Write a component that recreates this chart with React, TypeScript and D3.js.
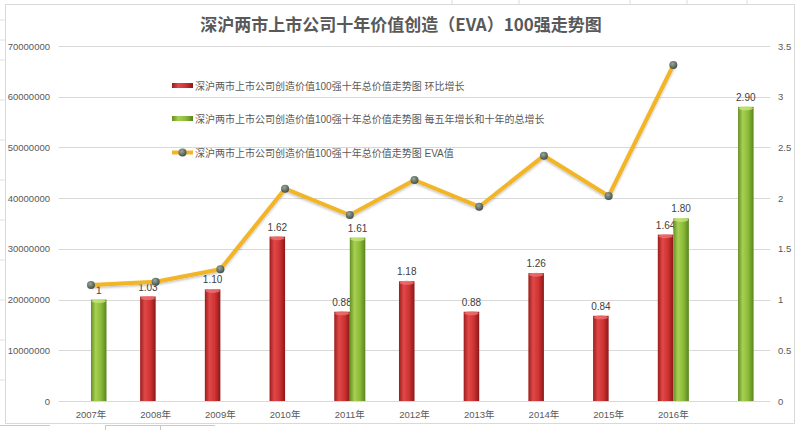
import React, { useEffect } from 'react';
import * as d3 from 'd3';

// chart data
const categories = ['2007年', '2008年', '2009年', '2010年', '2011年', '2012年', '2013年', '2014年', '2015年', '2016年', ''];
const ringGrowth: (number | null)[] = [null, 1.03, 1.10, 1.62, 0.88, 1.18, 0.88, 1.26, 0.84, 1.64, null];
const ringLabels = ['', '1.03', '1.10', '1.62', '0.88', '1.18', '0.88', '1.26', '0.84', '1.64', ''];
const periodGrowth: (number | null)[] = [1, null, null, null, 1.61, null, null, null, null, 1.80, 2.90];
const periodLabels = ['1', '', '', '', '1.61', '', '', '', '', '1.80', '2.90'];
const evaValues = [22870000, 23520000, 25970000, 41860000, 36680000, 43580000, 38310000, 48370000, 40420000, 66250000];
const leftTicks = [0, 10000000, 20000000, 30000000, 40000000, 50000000, 60000000, 70000000];
const rightTicks = [0, 0.5, 1, 1.5, 2, 2.5, 3, 3.5];

const seriesNames = [
  '深沪两市上市公司创造价值100强十年总价值走势图 环比增长',
  '深沪两市上市公司创造价值100强十年总价值走势图 每五年增长和十年的总增长',
  '深沪两市上市公司创造价值100强十年总价值走势图 EVA值',
];
const title = '深沪两市上市公司十年价值创造（EVA）100强走势图';

const W = 800;
const H = 430;
const FONT = '"Liberation Sans", "Noto Sans CJK SC", sans-serif';
const TXT = '#595959';

const App: React.FC = () => {
  useEffect(() => {
    document.body.style.margin = '0';
  }, []);

  const plotLeft = 58.6;
  const plotRight = 770.4;
  const plotTop = 46;
  const plotBottom = 401;

  const x = d3.scaleBand<string>()
    .domain(categories.map((c, i) => c + '#' + i))
    .range([plotLeft, plotRight])
    .paddingInner(0.52)
    .paddingOuter(0.26);
  const keys = categories.map((c, i) => c + '#' + i);
  const inner = d3.scaleBand<string>().domain(['ring', 'period']).range([0, x.bandwidth()]);

  const yL = d3.scaleLinear().domain([0, 70000000]).range([plotBottom, plotTop]);
  const yR = d3.scaleLinear().domain([0, 3.5]).range([plotBottom, plotTop]);

  const cx = (i: number) => (x(keys[i]) || 0) + x.bandwidth() / 2;

  const line = d3.line<number>()
    .x((_, i) => cx(i))
    .y(d => yL(d));

  const bw = inner.bandwidth();

  const renderBar = (v: number | null, i: number, s: 'ring' | 'period', label: string) => {
    if (v == null) return null;
    const bx = (x(keys[i]) || 0) + (inner(s) || 0);
    const by = yR(v);
    const grad = s === 'ring' ? 'url(#gRed)' : 'url(#gGreen)';
    const cap = s === 'ring' ? '#f07070' : '#c4e57a';
    return (
      <g key={s + i}>
        <rect x={bx} y={by} width={bw} height={plotBottom - by} fill={grad} />
        <ellipse cx={bx + bw / 2} cy={by + 1.5} rx={bw / 2 - 0.5} ry={2} fill={cap} opacity={0.8} />
        <text x={bx + bw / 2} y={by - 6} textAnchor="middle" fontSize={10} fill="#404040" fontFamily={FONT}>
          {label}
        </text>
      </g>
    );
  };

  return (
    <svg width={W} height={H} style={{ display: 'block', background: '#fff' }}>
      <defs>
        <linearGradient id="gRed" x1="0" x2="1" y1="0" y2="0">
          <stop offset="0%" stopColor="#9a1c1c" />
          <stop offset="30%" stopColor="#e04848" />
          <stop offset="65%" stopColor="#cf3333" />
          <stop offset="100%" stopColor="#8c1818" />
        </linearGradient>
        <linearGradient id="gGreen" x1="0" x2="1" y1="0" y2="0">
          <stop offset="0%" stopColor="#668f24" />
          <stop offset="30%" stopColor="#a6d052" />
          <stop offset="65%" stopColor="#8cbb38" />
          <stop offset="100%" stopColor="#5a8420" />
        </linearGradient>
        <radialGradient id="gDot" cx="0.4" cy="0.35" r="0.7">
          <stop offset="0%" stopColor="#9aa89c" />
          <stop offset="100%" stopColor="#3c4a42" />
        </radialGradient>
        <filter id="shadow" x="-5%" y="-5%" width="110%" height="120%">
          <feDropShadow dx="0" dy="1.5" stdDeviation="1" floodColor="#000" floodOpacity="0.25" />
        </filter>
      </defs>

      {/* spreadsheet surroundings */}
      <rect x={0} y={0} width={W} height={H} fill="#fff" />
      {[452, 519, 630, 687, 747].map(v => (
        <line key={'tv' + v} x1={v} x2={v} y1={0} y2={4} stroke="#dcdcdc" />
      ))}
      {[20, 40, 60, 100, 140, 180, 220, 260, 300, 340, 380].map(v => (
        <line key={'lh' + v} x1={0} x2={5} y1={v} y2={v} stroke="#e0e0e0" />
      ))}
      <rect x={5.5} y={4.5} width={789} height={419} fill="#fff" stroke="#d9d9d9" />
      <line x1={0} x2={50} y1={425.5} y2={425.5} stroke="#c8c8c8" />
      <line x1={105} x2={215} y1={425.5} y2={425.5} stroke="#c8c8c8" />
      <line x1={105.5} x2={105.5} y1={425} y2={430} stroke="#c8c8c8" />
      <line x1={160.5} x2={160.5} y1={425} y2={430} stroke="#c8c8c8" />

      {/* title */}
      <text x={401} y={31} textAnchor="middle" fontSize={17} fontWeight="bold" fill={TXT}
        fontFamily='"Noto Sans CJK SC", sans-serif'>
        {title}
      </text>

      {/* gridlines */}
      {leftTicks.map(t => (
        <line key={'g' + t} x1={plotLeft} x2={plotRight} y1={Math.round(yL(t)) + 0.5} y2={Math.round(yL(t)) + 0.5}
          stroke="#d9d9d9" />
      ))}

      {/* left axis */}
      {leftTicks.map(t => (
        <text key={'l' + t} x={50} y={yL(t) + 3.5} textAnchor="end" fontSize={9.5} fill={TXT} fontFamily={FONT}>
          {t}
        </text>
      ))}
      {/* right axis */}
      {rightTicks.map(t => (
        <text key={'r' + t} x={778} y={yR(t) + 3.5} textAnchor="start" fontSize={9.5} fill={TXT} fontFamily={FONT}>
          {t}
        </text>
      ))}
      {/* category labels */}
      {categories.map((c, i) => (
        <text key={'c' + i} x={cx(i)} y={418} textAnchor="middle" fontSize={9.5} fill={TXT} fontFamily={FONT}>
          {c}
        </text>
      ))}

      {/* bars */}
      {ringGrowth.map((v, i) => renderBar(v, i, 'ring', ringLabels[i]))}
      {periodGrowth.map((v, i) => renderBar(v, i, 'period', periodLabels[i]))}

      {/* EVA line */}
      <path d={line(evaValues) || ''} fill="none" stroke="#f2b526" strokeWidth={4} strokeLinejoin="round"
        filter="url(#shadow)" />
      {evaValues.map((v, i) => (
        <circle key={'p' + i} cx={cx(i)} cy={yL(v)} r={4} fill="url(#gDot)" />
      ))}

      {/* legend */}
      <g fontFamily={FONT} fontSize={10} fill={TXT}>
        <rect x={172} y={83} width={21} height={5} fill="url(#gRed)" />
        <text x={195} y={89.5}>{seriesNames[0]}</text>
        <rect x={172} y={116} width={21} height={5} fill="url(#gGreen)" />
        <text x={195} y={122.5}>{seriesNames[1]}</text>
        <line x1={172} x2={193} y1={152.5} y2={152.5} stroke="#f2b526" strokeWidth={4} />
        <circle cx={182.5} cy={152.5} r={4} fill="url(#gDot)" />
        <text x={195} y={156.5}>{seriesNames[2]}</text>
      </g>
    </svg>
  );
};

export default App;
